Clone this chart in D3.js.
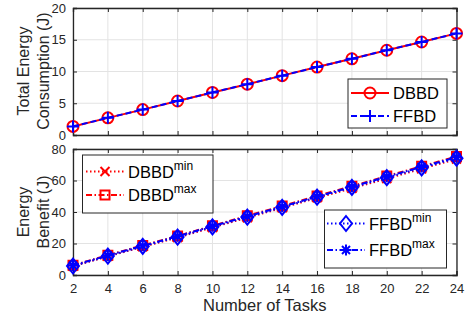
<!DOCTYPE html>
<html><head><meta charset="utf-8">
<script src="https://cdn.jsdelivr.net/npm/d3@7"></script>
<style>body{margin:0;background:#fff}svg{display:block}text{font-family:"Liberation Sans",Arial,sans-serif}</style>
</head><body><svg id="c" width="465" height="315"></svg>
<script>
const tasks = [2,4,6,8,10,12,14,16,18,20,22,24];
const dbbd = [1.35,2.7,4.0,5.35,6.7,8.0,9.35,10.7,12.0,13.35,14.65,16.0];
const ffbd = [1.35,2.7,4.0,5.35,6.7,8.0,9.35,10.7,12.0,13.35,14.65,16.0];
const dbbdMin = [5.6,11.8,17.9,23.8,30.2,36.4,42.6,49.0,55.0,61.2,67.4,73.6];
const dbbdMax = [6.2,12.6,18.8,24.8,31.2,37.6,43.8,50.2,56.4,62.8,69.0,75.2];
const ffbdMin = [5.7,12.0,18.2,24.1,30.6,36.8,43.0,49.4,55.6,61.8,68.0,74.2];
const ffbdMax = [6.0,12.4,18.5,24.6,31.0,37.2,43.4,49.8,56.0,62.4,68.6,74.8];
const xTicks = [2,4,6,8,10,12,14,16,18,20,22,24];
const yTopTicks = [0,5,10,15,20];
const yBotTicks = [0,20,40,60,80];

const svg = d3.select("#c");
const L = 73, R = 456.5;
const axC = "#262626";
const x = d3.scaleLinear().domain([2,24]).range([L,R]);
const yT = d3.scaleLinear().domain([0,20]).range([135,8]);
const yB = d3.scaleLinear().domain([0,80]).range([275,149]);

function panel(y, ticks, showX){
  const g = svg.append("g");
  const [y0,y1] = y.range();
  g.selectAll("line.gx").data(xTicks).join("line").attr("class","gx").attr("x1",d=>x(d)).attr("x2",d=>x(d)).attr("y1",y0).attr("y2",y1).attr("stroke","#e3e3e3").attr("stroke-width",1);
  g.selectAll("line.gy").data(ticks).join("line").attr("class","gy").attr("x1",L).attr("x2",R).attr("y1",d=>y(d)).attr("y2",d=>y(d)).attr("stroke","#e3e3e3").attr("stroke-width",1);
  const ax = g.append("g").attr("transform",`translate(0,${y0})`).call(d3.axisBottom(x).tickValues(xTicks).tickSize(-4).tickPadding(showX?9:0).tickFormat(showX?d3.format("d"):""));
  const axTop = g.append("g").attr("transform",`translate(0,${y1})`).call(d3.axisTop(x).tickValues(xTicks).tickSize(-4).tickFormat(""));
  const ay = g.append("g").attr("transform",`translate(${L},0)`).call(d3.axisLeft(y).tickValues(ticks).tickSize(-4).tickPadding(7).tickFormat(d3.format("d")));
  const ayR = g.append("g").attr("transform",`translate(${R},0)`).call(d3.axisRight(y).tickValues(ticks).tickSize(-4).tickFormat(""));
  [ax,axTop,ay,ayR].forEach(a=>{
    a.select(".domain").attr("stroke",axC).attr("stroke-width",1.3);
    a.selectAll(".tick line").attr("stroke",axC).attr("stroke-width",1);
    a.selectAll("text").attr("fill",axC).style("font-size","13px").style("font-family",'"Liberation Sans",Arial,sans-serif');
  });
  return g;
}

function marker(g, type, cx, cy, color){
  const s = g.append("path").attr("class","mk").attr("fill","none").attr("stroke",color).attr("stroke-width",2);
  let d="";
  if(type==="o"){ d=`M${cx-5.5},${cy}a5.5,5.5 0 1,0 11,0a5.5,5.5 0 1,0 -11,0`; }
  else if(type==="+"){ d=`M${cx-6},${cy}H${cx+6}M${cx},${cy-6}V${cy+6}`; }
  else if(type==="x"){ d=`M${cx-4.5},${cy-4.5}L${cx+4.5},${cy+4.5}M${cx-4.5},${cy+4.5}L${cx+4.5},${cy-4.5}`; }
  else if(type==="s"){ d=`M${cx-4.5},${cy-4.5}H${cx+4.5}V${cy+4.5}H${cx-4.5}Z`; }
  else if(type==="d"){ d=`M${cx},${cy-7.5}L${cx+6},${cy}L${cx},${cy+7.5}L${cx-6},${cy}Z`; }
  else if(type==="*"){ d=`M${cx-5.5},${cy}H${cx+5.5}M${cx},${cy-5.5}V${cy+5.5}M${cx-4},${cy-4}L${cx+4},${cy+4}M${cx-4},${cy+4}L${cx+4},${cy-4}`; }
  s.attr("d",d);
}

const dashes = {solid:null, dash:"6,3", dot:"1.5,2.5", dashdot:"6,2.5,1.5,2.5"};

function series(g, y, vals, color, dash, mk){
  const line = d3.line().x((d,i)=>x(tasks[i])).y(d=>y(d));
  g.append("path").attr("class","sl").datum(vals).attr("d",line).attr("fill","none").attr("stroke",color).attr("stroke-width",2).attr("stroke-dasharray",dashes[dash]);
  vals.forEach((v,i)=>marker(g,mk,x(tasks[i]),y(v),color));
}

function legend(g, x0, y0, w, h, items){
  g.append("rect").attr("x",x0).attr("y",y0).attr("width",w).attr("height",h).attr("fill","#fff").attr("stroke",axC).attr("stroke-width",1);
  items.forEach(it=>{
    g.append("line").attr("class","lg").attr("x1",it.lx1).attr("x2",it.lx2).attr("y1",it.y).attr("y2",it.y).attr("stroke",it.color).attr("stroke-width",2).attr("stroke-dasharray",dashes[it.dash]);
    marker(g,it.mk,(it.lx1+it.lx2)/2,it.y,it.color);
    const t = g.append("text").attr("x",it.tx).attr("y",it.y+6).attr("fill","#000").style("font-size","16.5px").text(it.label);
    if(it.sup) t.append("tspan").attr("dy",-8).style("font-size","12px").text(it.sup);
  });
}

const gT = panel(yT, yTopTicks, false);
series(gT, yT, dbbd, "#ff0000", "solid", "o");
series(gT, yT, ffbd, "#0000ff", "dash", "+");
legend(gT, 348, 79, 99, 49, [
  {label:"DBBD", color:"#ff0000", dash:"solid", mk:"o", y:93, lx1:351, lx2:389, tx:393},
  {label:"FFBD", color:"#0000ff", dash:"dash", mk:"+", y:116, lx1:351, lx2:389, tx:393}
]);

const gB = panel(yB, yBotTicks, true);
series(gB, yB, dbbdMin, "#ff0000", "dot", "x");
series(gB, yB, dbbdMax, "#ff0000", "dashdot", "s");
series(gB, yB, ffbdMin, "#0000ff", "dot", "d");
series(gB, yB, ffbdMax, "#0000ff", "dashdot", "*");
legend(gB, 82.5, 155, 130.5, 58, [
  {label:"DBBD", sup:"min", color:"#ff0000", dash:"dot", mk:"x", y:171.5, lx1:86, lx2:124, tx:128},
  {label:"DBBD", sup:"max", color:"#ff0000", dash:"dashdot", mk:"s", y:195, lx1:86, lx2:124, tx:128}
]);
legend(gB, 324.5, 210, 122, 58, [
  {label:"FFBD", sup:"min", color:"#0000ff", dash:"dot", mk:"d", y:223.5, lx1:327, lx2:365, tx:369},
  {label:"FFBD", sup:"max", color:"#0000ff", dash:"dashdot", mk:"*", y:250, lx1:327, lx2:365, tx:369}
]);

function ylab(lines, cy){
  lines.forEach((s,i)=>{
    svg.append("text").attr("transform",`translate(${29+i*20},${cy}) rotate(-90)`).attr("text-anchor","middle").attr("fill",axC).style("font-size","16px").text(s);
  });
}
ylab(["Total Energy","Consumption (J)"], 71);
ylab(["Energy","Benefit (J)"], 212);
svg.append("text").attr("x",(L+R)/2).attr("y",311).attr("text-anchor","middle").attr("fill",axC).style("font-size","16.5px").text("Number of Tasks");
</script></body></html>
